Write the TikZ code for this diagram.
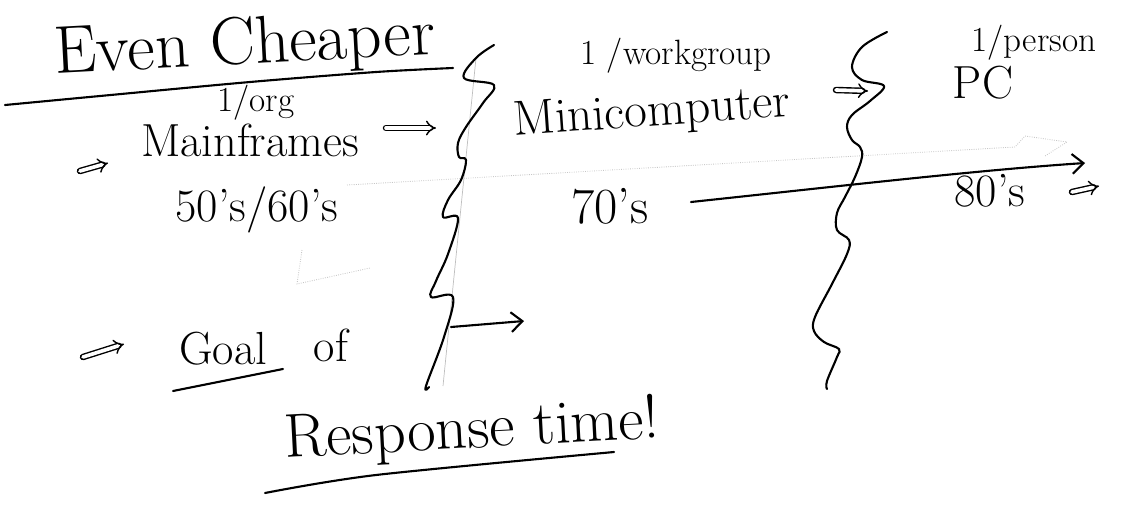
\documentclass[tikz,border=0pt]{standalone}
\usepackage{fontspec}
\usetikzlibrary{arrows.meta}

\begin{document}
\begin{tikzpicture}[x=0.025cm, y=-0.025cm, ink/.style={line width=1.5pt, line cap=round, line join=round}, faint/.style={gray!45, line width=0.6pt, densely dotted}, hand/.style={inner sep=0pt, anchor=center}, txthuge/.style={hand, font=\fontsize{48}{54}\selectfont}, txtbig/.style={hand, font=\fontsize{44}{50}\selectfont}, txtmid/.style={hand, font=\fontsize{33}{38}\selectfont}, txtsmall/.style={hand, font=\fontsize{25}{30}\selectfont}, dbl/.style={double, double distance=2.6pt, line width=1pt, line cap=round, -{Implies}}, barb/.style={ink, -{Straight Barb[length=8pt, width=14pt]}}]
\useasboundingbox (0,0) rectangle (1127,508);
% labels
\node[txthuge, rotate=3] (cheaper) at (245,47) {Even Cheaper};
\node[txtsmall] (org) at (256,103) {1/org};
\node[txtmid] (mainframes) at (250,140) {Mainframes};
\node[txtmid] (y5060) at (257,210) {50's/60's};
\node[txtsmall] (workgroup) at (676,56) {1 /workgroup};
\node[txtmid, rotate=4, font=\fontsize{35}{40}\selectfont] (mini) at (652,114) {Minicomputer};
\node[txtmid, font=\fontsize{36}{42}\selectfont] (y70) at (610,206) {70's};
\node[txtsmall] (person) at (1034,43) {1/person};
\node[txtmid] (pc) at (983,83) {PC};
\node[txtmid] (y80) at (990,191) {80's};
\node[txtmid] (goal) at (223,349) {Goal};
\node[txtmid] (of) at (331,345) {of};
\node[txtbig, rotate=3] (response) at (472,432) {Response time!};
% arrow ends
\coordinate (mf-from) at (386,128);
\coordinate (mf-to) at (436,128);
\coordinate (mini-from) at (836,90);
\coordinate (mini-to) at (868,91);
\coordinate (b1-from) at (80,171);
\coordinate (b1-to) at (108,163);
\coordinate (b2-from) at (83,357);
\coordinate (b2-to) at (124,344);
\coordinate (w1-from) at (451,327);
\coordinate (w1-to) at (524,321);
\coordinate (tl-from) at (691,202);
\coordinate (tl-to) at (1085,163);
\coordinate (e80-from) at (1072,192);
\coordinate (e80-to) at (1099,186);
% underlines
\draw[ink] plot[smooth] coordinates {(5,105) (100,96) (250,82) (376,72) (453,68)};
\draw[ink] (173,391) -- (283,369);
\draw[ink] plot[smooth] coordinates {(265,493) (376,475) (614,452)};
% faint pencil marks
\draw[gray!50, line width=0.5pt] (476,58) -- (443,386);
\draw[faint] (347,185) -- (1015,147) -- (1025,136) -- (1067,142) -- (1045,156);
\draw[faint] (302,250) -- (297,284) -- (370,268);
% squiggles
\draw[ink] plot[smooth, tension=0.6] coordinates {(494,45) (476,58) (464,78) (494,85) (483,103) (466,127) (458,143) (459,157) (466,160) (461,180) (448,200) (443,217) (458,218) (448,254) (436,281) (431,297) (453,297) (444,337) (426,386) (429,387)};
\draw[ink] plot[smooth, tension=0.6] coordinates {(887,32) (862,47) (852,67) (862,80) (884,86) (870,101) (852,115) (847,127) (852,140) (860,147) (862,157) (855,177) (845,197) (837,213) (837,230) (849,240) (847,254) (832,284) (815,317) (814,331) (824,342) (839,349) (837,357) (827,381) (827,389)};
% arrows
\draw[dbl] (b1-from) -- (b1-to);
\draw[dbl] (mf-from) -- (mf-to);
\draw[dbl] (mini-from) -- (mini-to);
\draw[dbl] (b2-from) -- (b2-to);
\draw[dbl] (e80-from) -- (e80-to);
\draw[barb] (w1-from) -- (w1-to);
\draw[barb] (tl-from) .. controls (850,185) and (980,170) .. (tl-to);
\end{tikzpicture}
\end{document}
